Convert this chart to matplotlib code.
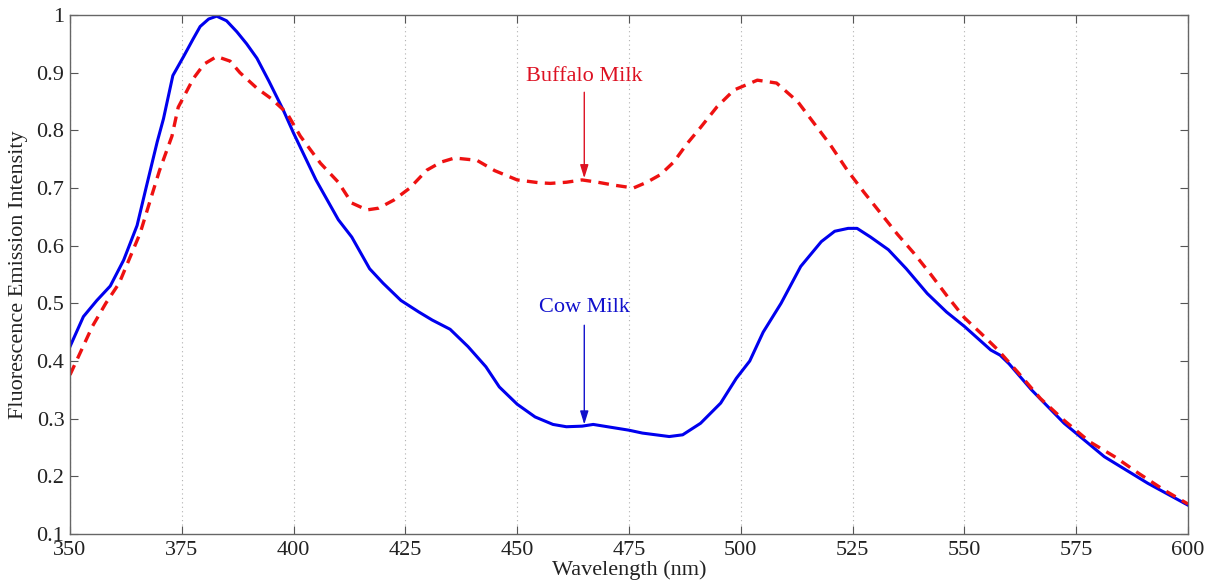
import matplotlib
matplotlib.use("Agg")
import matplotlib.pyplot as plt
from matplotlib.ticker import FuncFormatter

plt.rcParams['font.family'] = ['Liberation Serif', 'DejaVu Serif']

cow_wl = [350, 353, 356, 359, 362, 365, 367, 369.5, 370.9, 373, 375.4, 377.5, 379.1, 381, 382.8,
          385, 387.3, 389.5, 391.8, 394.5, 397.7, 400, 405, 410, 413, 417, 420, 424, 428, 431,
          435, 439, 443, 446, 450, 454, 458, 461, 464.5, 467, 471, 475, 478, 484, 487, 491, 495.5,
          499, 502, 505, 509, 513.4, 518, 521, 524, 526, 529, 533, 537, 541.7, 546, 550, 555.9,
          558, 560, 565, 572.3, 581.3, 591, 600]
cow_int = [0.425, 0.477, 0.505, 0.53, 0.575, 0.635, 0.70, 0.78, 0.82, 0.895, 0.928, 0.958, 0.98,
           0.993, 0.998, 0.99, 0.971, 0.95, 0.925, 0.885, 0.835, 0.795, 0.714, 0.645, 0.615, 0.56,
           0.535, 0.505, 0.485, 0.471, 0.455, 0.425, 0.39, 0.355, 0.325, 0.303, 0.29, 0.286,
           0.287, 0.29, 0.285, 0.28, 0.275, 0.269, 0.272, 0.292, 0.327, 0.37, 0.40, 0.45, 0.50,
           0.564, 0.607, 0.625, 0.63, 0.63, 0.615, 0.593, 0.56, 0.517, 0.485, 0.46, 0.419, 0.41,
           0.395, 0.35, 0.292, 0.234, 0.188, 0.15]

buf_wl = [350, 355, 358, 361, 365.7, 368, 370, 372.8, 374.2, 377.6, 380, 382.8, 385.8, 388,
          391.8, 395, 398.5, 401.5, 406, 410, 413, 416.4, 419, 422.4, 426, 429.8, 433, 436, 441,
          445, 450, 455, 457.4, 461, 464.5, 468, 471.6, 476, 479, 482, 485, 488, 491, 494.7, 498.5,
          503.7, 508, 512.7, 516.4, 520, 523.8, 527.5, 531.3, 535, 538.7, 542.5, 546.2, 550,
          553.7, 557.4, 562, 567, 572.3, 578, 583.6, 589, 594.7, 600]
buf_int = [0.376, 0.46, 0.50, 0.535, 0.622, 0.68, 0.73, 0.79, 0.84, 0.89, 0.915, 0.928, 0.92,
           0.90, 0.873, 0.855, 0.83, 0.79, 0.743, 0.71, 0.674, 0.662, 0.665, 0.679, 0.70, 0.731,
           0.745, 0.752, 0.748, 0.73, 0.714, 0.709, 0.708, 0.71, 0.714, 0.71, 0.705, 0.70, 0.71,
           0.723, 0.745, 0.777, 0.805, 0.841, 0.87, 0.887, 0.882, 0.85, 0.812, 0.775, 0.731,
           0.693, 0.656, 0.62, 0.587, 0.55, 0.512, 0.475, 0.448, 0.42, 0.38, 0.335, 0.297, 0.26,
           0.234, 0.205, 0.176, 0.152]

x_ticks = [350, 375, 400, 425, 450, 475, 500, 525, 550, 575, 600]
y_ticks = [0.1, 0.2, 0.3, 0.4, 0.5, 0.6, 0.7, 0.8, 0.9, 1.0]

fig = plt.figure(figsize=(12.21, 5.88), dpi=100)
ax = fig.add_axes([70/1221, 1-534/588, (1188-70)/1221, (534-15)/588])

ax.plot(cow_wl, cow_int, color='#0000ee', lw=2.2, solid_joinstyle='round')
ax.plot(buf_wl, buf_int, color='#ee1111', lw=2.4, linestyle=(0, (3.2, 2.2)))

ax.set_xlim(350, 600)
ax.set_ylim(0.1, 1.0)
ax.set_xticks(x_ticks)
ax.set_yticks(y_ticks)
ax.yaxis.set_major_formatter(FuncFormatter(lambda v, p: f"{v:g}"))
ax.xaxis.grid(True, linestyle=(0, (1, 3)), color='#b0b0b0', lw=0.8)
ax.tick_params(direction='in', top=True, right=True, length=6, width=0.8,
               colors='#555555', labelcolor='#222222', labelsize=16)
ax.tick_params(axis='x', pad=5)
ax.tick_params(axis='y', pad=4)
for s in ax.spines.values():
    s.set_color('#666666')
    s.set_linewidth(1.0)

ax.set_xlabel('Wavelength (nm)', fontsize=16, color='#222222', labelpad=0)
ax.set_ylabel('Fluorescence Emission Intensity', fontsize=16, color='#222222', labelpad=6)

ax.text(465, 0.894, 'Buffalo Milk', color='#dd1122', fontsize=16, ha='center', va='center')
ax.annotate('', xy=(465, 0.717), xytext=(465, 0.866),
            arrowprops=dict(arrowstyle='-|>,head_length=0.8,head_width=0.25', color='#dd1122',
                            lw=1.0, shrinkA=0, shrinkB=0))
ax.text(465, 0.492, 'Cow Milk', color='#1111cc', fontsize=16, ha='center', va='center')
ax.annotate('', xy=(465, 0.29), xytext=(465, 0.462),
            arrowprops=dict(arrowstyle='-|>,head_length=0.8,head_width=0.25', color='#1111cc',
                            lw=1.0, shrinkA=0, shrinkB=0))

fig.savefig('out.png', dpi=100)
